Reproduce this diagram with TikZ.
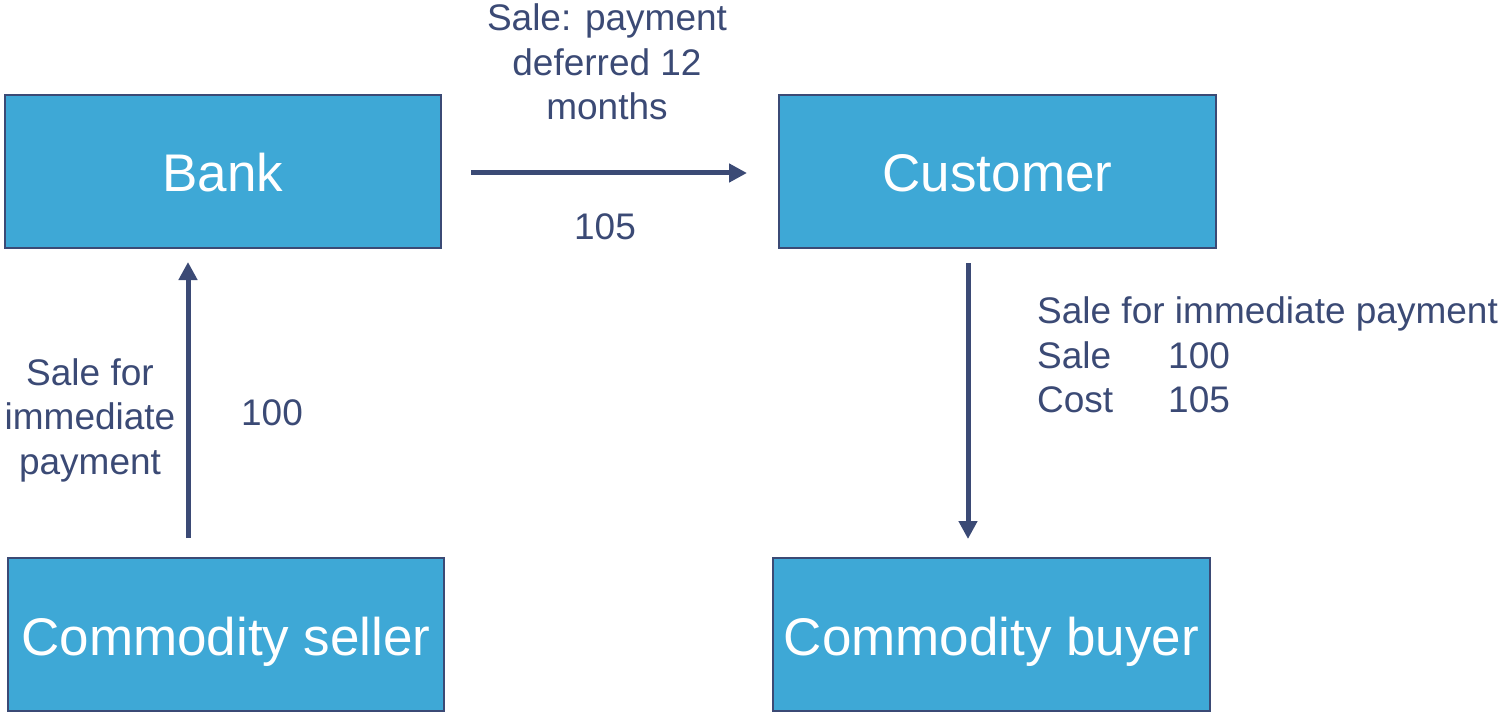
\documentclass[tikz,border=0pt]{standalone}
\usepackage{fontspec}
\setmainfont{Liberation Sans}
\usetikzlibrary{arrows.meta}
\definecolor{boxfill}{HTML}{3EA8D6}
\definecolor{navy}{HTML}{3B4A75}
\tikzset{
  box/.style={draw=navy, line width=2pt, fill=boxfill, text=white, inner sep=0pt,
    minimum width=436pt, minimum height=153pt, text height=41pt, text depth=0pt,
    font=\fontsize{53}{60}\selectfont},
  lbl/.style={text=navy, inner sep=0pt, font=\fontsize{37}{44.5}\selectfont},
  flow/.style={draw=navy, line width=5pt, -{Triangle[length=18pt,width=18pt]}}
}
\begin{document}
\begin{tikzpicture}[x=1pt,y=-1pt]
\useasboundingbox (0,0) rectangle (1504,714);
\node[box] (bank) at (223,171.5) {Bank};
\node[box, minimum width=437pt] (cust) at (997.5,171.5) {Customer};
\node[box] (seller) at (226,634.5) {Commodity seller};
\node[box, minimum width=437pt] (buyer) at (991.5,634.5) {Commodity buyer};

\coordinate (h1) at (471,173);
\coordinate (h2) at (747,173);
\coordinate (u1) at (188,538);
\coordinate (u2) at (188,262);
\coordinate (d1) at (968,263);
\coordinate (d2) at (968,539);
\draw[flow] (h1) -- (h2);
\draw[flow] (u1) -- (u2);
\draw[flow] (d1) -- (d2);

\node[lbl, align=center] (t1) at (607,62) {Sale: payment\\deferred 12\\months};
\node[lbl] (t2) at (605,227) {105};
\node[lbl, align=center] (t3) at (90,420) {Sale for\\immediate\\payment};
\node[lbl] (t4) at (272,413) {100};
\node[lbl, align=left, anchor=west] (t5) at (1037,355) {Sale for immediate payment\\\makebox[131pt][l]{Sale}100\\\makebox[131pt][l]{Cost}105};
\end{tikzpicture}
\end{document}
